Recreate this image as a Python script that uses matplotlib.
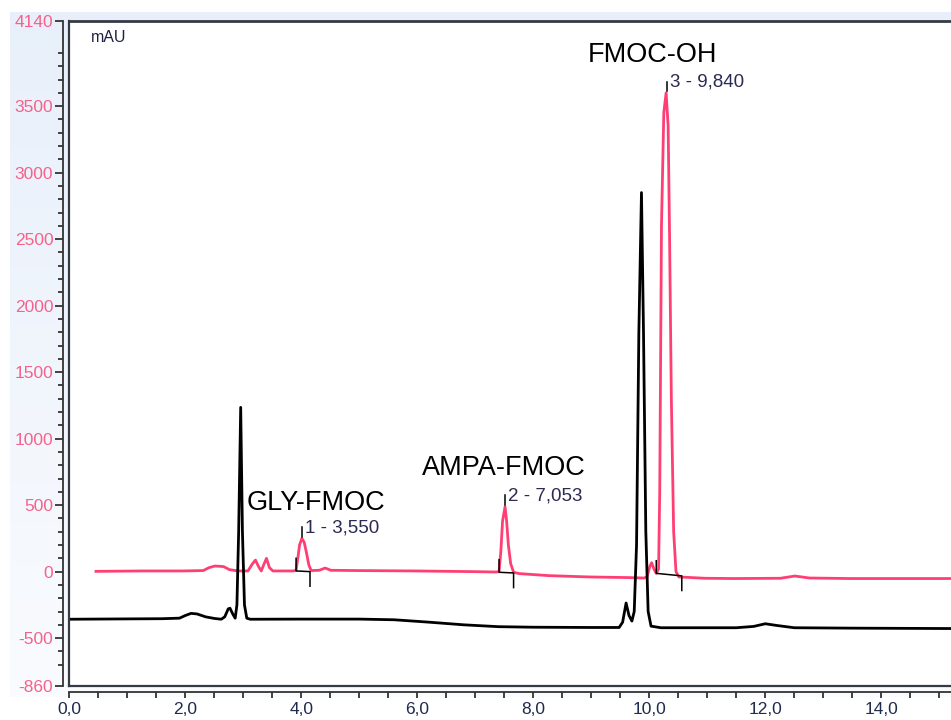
import numpy as np
import matplotlib.pyplot as plt
from matplotlib.lines import Line2D

plt.rcParams['font.family'] = ['Liberation Sans', 'DejaVu Sans']

# ---- 数据（从图上读取的色谱曲线关键点）----
# 黑色曲线：时间 (min) / 信号 (mAU)
black_time = [0.00, 0.80, 1.60, 1.90, 2.00, 2.10, 2.20, 2.35, 2.50, 2.62, 2.68, 2.74,
              2.77, 2.82, 2.86, 2.89, 2.92, 2.955, 2.985, 3.02, 3.06, 3.12, 4.00, 5.00,
              5.60, 6.20, 6.80, 7.40, 8.00, 9.00, 9.48, 9.54, 9.60, 9.65, 9.70, 9.74,
              9.78, 9.82, 9.865, 9.90, 9.94, 9.98, 10.03, 10.20, 11.50, 11.80, 12.00,
              12.20, 12.50, 13.50, 15.20]
black_mau = [-358, -356, -354, -350, -330, -314, -318, -340, -352, -358, -340, -280,
             -275, -320, -350, -250, 300, 1235, 300, -250, -350, -358, -357, -357,
             -362, -380, -400, -414, -418, -420, -420, -380, -236, -330, -372, -300,
             200, 1800, 2850, 1800, 300, -300, -410, -422, -422, -412, -392,
             -405, -422, -425, -428]

# 粉色曲线：自身保留时间 (min) / 信号 (mAU)，叠加显示时整体右移 PINK_SHIFT
pink_time = [0.00, 0.80, 1.50, 1.85, 1.95, 2.05, 2.20, 2.30, 2.45, 2.62, 2.70, 2.75,
             2.80, 2.85, 2.90, 2.94, 2.99, 3.05, 3.40, 3.45, 3.48, 3.51, 3.55, 3.59,
             3.63, 3.67, 3.71, 3.85, 3.95, 4.05, 4.50, 5.50, 6.50, 6.90, 6.95, 6.98,
             7.01, 7.053, 7.08, 7.11, 7.15, 7.20, 7.30, 7.80, 8.50, 9.20, 9.45, 9.50,
             9.55, 9.58, 9.62, 9.66, 9.70, 9.72, 9.75, 9.79, 9.83, 9.865, 9.89, 9.92,
             9.96, 10.00, 10.05, 10.50, 11.00, 11.80, 12.05, 12.30, 13.00, 14.00, 14.80]
pink_mau = [2, 5, 5, 8, 30, 42, 38, 15, 5, 5, 60, 87,
            40, 5, 60, 100, 30, 5, 5, 10, 100, 200, 250, 220,
            140, 50, 8, 10, 27, 10, 8, 5, 0, -3, 0, 150,
            380, 488, 380, 200, 60, -5, -15, -30, -40, -45, -48, -40,
            40, 67, 20, -13, 20, 600, 2600, 3450, 3600, 3350, 2500, 1300,
            300, 0, -40, -50, -52, -50, -33, -48, -52, -52, -52]
PINK_SHIFT = 0.46

# 积分峰（粉色曲线）
peak_ids = [1, 2, 3]
peak_rt = [3.550, 7.053, 9.840]
peak_apex = [250, 488, 3600]
peak_start = [3.45, 6.95, 9.66]
peak_end = [3.69, 7.20, 10.10]
peak_base_start = [5, -5, -13]
peak_base_end = [0, -10, -32]
compound_names = ['GLY-FMOC', 'AMPA-FMOC', 'FMOC-OH']
# 名称标签位置（x, y 数据坐标）
name_pos = [(3.06, 516), (6.08, 779), (8.94, 3884)]

y_major = [4140, 3500, 3000, 2500, 2000, 1500, 1000, 500, 0, -500, -860]
y_minor = [v for v in range(-700, 4001, 100) if v % 500 != 0]
x_major = [0, 2, 4, 6, 8, 10, 12, 14]

PINK = '#FF3F74'
TICK_PINK = '#F5628A'
NAVY = '#1E2A4E'

W, H = 951, 720
fig = plt.figure(figsize=(W / 100, H / 100), dpi=100)
fig.patch.set_facecolor('white')

# 浅蓝渐变背景
bg = fig.add_axes([10 / W, 1 - 697 / H, 1 - 10 / W, (697 - 12) / H])
top_c = np.array([0.910, 0.940, 0.982])
bot_c = np.array([0.978, 0.985, 0.997])
grad = np.linspace(0, 1, 256)[:, None, None]
bg.imshow(top_c + (bot_c - top_c) * grad, aspect='auto', extent=[0, 1, 0, 1])
bg.set_axis_off()

x0, ytop, ybot = 69.3, 21, 686
ax = fig.add_axes([x0 / W, 1 - ybot / H, 1 - x0 / W, (ybot - ytop) / H])
ax.set_facecolor('white')
ax.set_xlim(0, (W - x0) / 58.0)
ax.set_ylim(-860, 4140)

ax.plot(np.array(pink_time) + PINK_SHIFT, pink_mau, color=PINK, lw=2.0, zorder=3)
ax.plot(black_time, black_mau, color='black', lw=2.0, zorder=4)

# 积分标记与峰标签
for i in range(3):
    s = peak_start[i] + PINK_SHIFT
    e = peak_end[i] + PINK_SHIFT
    bs, be = peak_base_start[i], peak_base_end[i]
    ax.plot([s, s, e, e], [bs + 95, bs, be, be - 110], color='black', lw=1.1, zorder=5)
    apx = peak_rt[i] + PINK_SHIFT
    ax.plot([apx, apx], [peak_apex[i] + 12, peak_apex[i] + 85], color='black', lw=1.1, zorder=5)
    lbl = f'{peak_ids[i]} - {peak_rt[i]:.3f}'.replace('.', ',')
    ax.text(apx + 0.05, peak_apex[i] + 80, lbl, fontsize=13.5, color='#2A2A52',
            ha='left', va='center', zorder=6)
    ax.text(name_pos[i][0], name_pos[i][1], compound_names[i], fontsize=19.5,
            color='black', ha='left', va='center', zorder=6)

ax.text(0.025, 0.975, 'mAU', transform=ax.transAxes, fontsize=11.5, color='#202040',
        ha='left', va='center')

# 外框
for xs, ys, lw in [([0, 1], [1, 1], 2.0), ([0, 0], [0, 1], 1.6), ([0, 1], [0, 0], 1.6)]:
    ax.add_line(Line2D(xs, ys, transform=ax.transAxes, color='#353a44', lw=lw,
                       clip_on=False, zorder=7))

# 偏移坐标轴
ax.spines['right'].set_visible(False)
ax.spines['top'].set_visible(False)
for side in ['left', 'bottom']:
    ax.spines[side].set_position(('outward', 4.5))
    ax.spines[side].set_linewidth(1.3)
    ax.spines[side].set_color('#333333')

ax.set_yticks(y_major)
ax.set_yticklabels([str(v) for v in y_major])
ax.set_yticks(y_minor, minor=True)
ax.set_xticks(x_major)
ax.set_xticklabels([f'{v:.1f}'.replace('.', ',') for v in x_major])
ax.set_xticks(np.arange(0.5, 15.2, 0.5), minor=True)

ax.tick_params(axis='y', which='major', length=6, width=1.3, color='#333333',
               labelsize=12.5, labelcolor=TICK_PINK, pad=1)
ax.tick_params(axis='y', which='minor', length=3.5, width=1.3, color='#333333')
ax.tick_params(axis='x', which='major', length=4, width=1.3, color='#333333',
               labelsize=12.5, labelcolor=NAVY, pad=3)
ax.tick_params(axis='x', which='minor', length=4, width=1.3, color='#333333')

fig.savefig('out.png', dpi=100)
